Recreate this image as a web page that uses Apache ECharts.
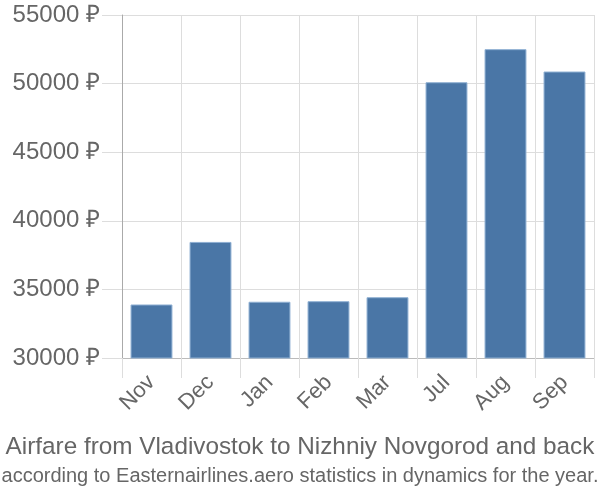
<!DOCTYPE html>
<html>
<head>
<meta charset="utf-8">
<script src="https://cdn.jsdelivr.net/npm/echarts@6/dist/echarts.min.js"></script>
<style>
  html, body { margin: 0; padding: 0; background: #fff; }
  #chart { width: 600px; height: 500px; }
</style>
</head>
<body>
<div id="chart"></div>
<script>
// months and average fare, rubles
const months = ['Nov', 'Dec', 'Jan', 'Feb', 'Mar', 'Jul', 'Aug', 'Sep'];
const fares = [33900, 38460, 34100, 34140, 34430, 50100, 52510, 50880];
const yTicks = [30000, 35000, 40000, 45000, 50000, 55000];

const titleText = 'Airfare from Vladivostok to Nizhniy Novgorod and back';
const subText = 'according to Easternairlines.aero statistics in dynamics for the year.';

const chart = echarts.init(document.getElementById('chart'));
chart.setOption({
  animation: false,
  title: [
    {
      text: titleText,
      left: 'center',
      top: 430,
      textStyle: { fontFamily: 'Liberation Sans', fontSize: 24.3, fontWeight: 'normal', color: '#666' }
    },
    {
      text: subText,
      left: 'center',
      top: 461,
      textStyle: { fontFamily: 'Liberation Sans', fontSize: 20, fontWeight: 'normal', color: '#666' }
    }
  ],
  grid: { left: 122, right: 6, top: 15, bottom: 142 },
  xAxis: {
    type: 'category',
    data: months,
    axisLine: { lineStyle: { color: '#bbb' } },
    axisTick: { show: true, length: 20, lineStyle: { color: '#ddd' } },
    splitLine: { show: true, lineStyle: { color: '#ddd' } },
    axisLabel: {
      rotate: 45,
      margin: 21,
      fontFamily: 'Liberation Sans',
      fontSize: 22,
      color: '#666'
    }
  },
  yAxis: {
    type: 'value',
    min: yTicks[0],
    max: yTicks[yTicks.length - 1],
    interval: 5000,
    axisLine: { show: true, lineStyle: { color: '#aaa' } },
    axisTick: { show: true, length: 20, lineStyle: { color: '#ddd' } },
    splitLine: { lineStyle: { color: '#ddd' } },
    axisLabel: {
      margin: 22,
      fontFamily: 'Liberation Sans',
      fontSize: 24,
      color: '#666',
      formatter: v => v + ' ₽'
    }
  },
  series: [{
    type: 'bar',
    data: fares,
    barCategoryGap: '29%',
    itemStyle: { color: '#4a76a6', borderColor: '#8fb0d3', borderWidth: 1 }
  }]
});
</script>
</body>
</html>
